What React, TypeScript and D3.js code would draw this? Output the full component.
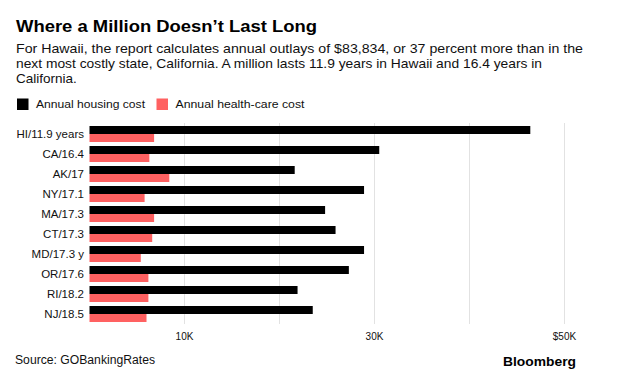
import React from "react";
import * as d3 from "d3";

const categories = ["HI/11.9 years", "CA/16.4", "AK/17", "NY/17.1", "MA/17.3", "CT/17.3", "MD/17.3 y", "OR/17.6", "RI/18.2", "NJ/18.5"];
const housingCost = [46400, 30500, 21600, 28900, 24800, 25900, 28900, 27300, 21900, 23500];
const healthCost = [6800, 6300, 8400, 5800, 6800, 6600, 5400, 6200, 6200, 6000];
const gridTicks = [10000, 20000, 30000, 40000, 50000];
const labeledTicks = [10000, 30000, 50000];
const tickLabels = ["10K", "30K", "$50K"];
const seriesNames = ["Annual housing cost", "Annual health-care cost"];
const seriesColors = ["#000000", "#ff6161"];
const title = "Where a Million Doesn’t Last Long";
const subtitleLines = [
  "For Hawaii, the report calculates annual outlays of $83,834, or 37 percent more than in the",
  "next most costly state, California. A million lasts 11.9 years in Hawaii and 16.4 years in",
  "California.",
];
const source = "Source: GOBankingRates";
const brand = "Bloomberg";

const FONT = "'Liberation Sans', Arial, Helvetica, sans-serif";

export default function App() {
  const W = 624;
  const H = 376;
  const x = d3.scaleLinear().domain([0, 50000]).range([89.5, 564.5]);
  const y = d3.scaleBand<string>().domain(categories).range([124, 324]).paddingInner(0.2).paddingOuter(0.1);
  const bw = y.bandwidth() / 2;

  return (
    <svg width={W} height={H} style={{ position: "absolute", left: 0, top: 0, background: "#fff" }} fontFamily={FONT}>
      <rect width={W} height={H} fill="#fff" />
      <text x={16} y={32} fontSize={17} fontWeight="bold" fill="#000" textLength={301} lengthAdjust="spacingAndGlyphs">{title}</text>
      {subtitleLines.map((l, i) => (
        <text key={i} x={16} y={52.5 + i * 15.2} fontSize={13.5} fill="#111"
          textLength={i === 0 ? 567 : i === 1 ? 526 : undefined} lengthAdjust="spacingAndGlyphs">{l}</text>
      ))}
      {/* legend */}
      {seriesNames.map((n, i) => {
        const lx = i === 0 ? 17 : 156.5;
        return (
          <g key={n}>
            <rect x={lx} y={98.5} width={11.5} height={11.5} fill={seriesColors[i]} />
            <text x={lx + 19} y={108.3} fontSize={11.8} fill="#111" textLength={i === 0 ? 109 : 129} lengthAdjust="spacingAndGlyphs">{n}</text>
          </g>
        );
      })}
      {/* grid */}
      {gridTicks.map((t) => (
        <line key={t} x1={x(t)} x2={x(t)} y1={123} y2={324} stroke="#e2e2e2" strokeWidth={1} />
      ))}
      {/* bars */}
      {categories.map((c, i) => (
        <g key={c}>
          <rect x={x(0)} y={y(c)!} width={x(housingCost[i]) - x(0)} height={bw} fill={seriesColors[0]} />
          <rect x={x(0)} y={y(c)! + bw} width={x(healthCost[i]) - x(0)} height={bw} fill={seriesColors[1]} />
          <text x={84} y={y(c)! + bw + 4} fontSize={11.5} textAnchor="end" fill="#111">{c}</text>
        </g>
      ))}
      {/* tick labels */}
      {labeledTicks.map((t, i) => (
        <text key={t} x={x(t)} y={339.5} fontSize={10} textAnchor="middle" fill="#111">{tickLabels[i]}</text>
      ))}
      <text x={15} y={363.5} fontSize={12.3} fill="#111" textLength={140} lengthAdjust="spacingAndGlyphs">{source}</text>
      <text x={576} y={366} fontSize={13} fontWeight="bold" textAnchor="end" fill="#000" textLength={73} lengthAdjust="spacingAndGlyphs">{brand}</text>
    </svg>
  );
}
